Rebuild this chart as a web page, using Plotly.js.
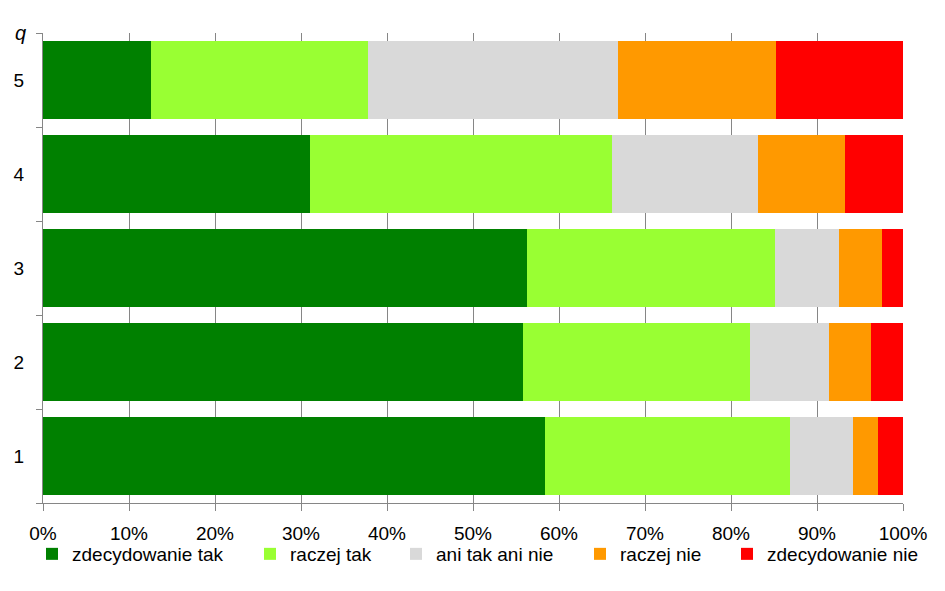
<!DOCTYPE html>
<html>
<head>
<meta charset="utf-8">
<script src="https://cdn.plot.ly/plotly-3.0.1.min.js"></script>
<style>html,body{margin:0;padding:0;background:#fff;}#chart{width:945px;height:591px;}</style>
</head>
<body>
<div id="chart"></div>
<script>
const categories = ['1', '2', '3', '4', '5'];
const seriesNames = ['zdecydowanie tak', 'raczej tak', 'ani tak ani nie', 'raczej nie', 'zdecydowanie nie'];
const zdecydowanieTak = [58.4, 55.8, 56.3, 31.0, 12.6];
const raczejTak = [28.5, 26.4, 28.8, 35.2, 25.2];
const aniTakAniNie = [7.3, 9.2, 7.4, 16.9, 29.1];
const raczejNie = [2.9, 4.9, 5.0, 10.2, 18.3];
const zdecydowanieNie = [2.9, 3.7, 2.5, 6.7, 14.8];
const xTickVals = [0, 10, 20, 30, 40, 50, 60, 70, 80, 90, 100];
const xTickText = ['0%', '10%', '20%', '30%', '40%', '50%', '60%', '70%', '80%', '90%', '100%'];

const seriesValues = [zdecydowanieTak, raczejTak, aniTakAniNie, raczejNie, zdecydowanieNie];
const colors = ['#008000', '#99FF33', '#D9D9D9', '#FF9900', '#FF0000'];
const legendIds = ['legend', 'legend2', 'legend3', 'legend4', 'legend5'];

const FONT = 'Liberation Sans, Arial, sans-serif';
const FS = 19;
const W = 945, H = 591, L = 43, R = 42, T = 33, B = 88;
const pw = W - L - R, ph = H - T - B;
const px2x = p => (p - L) / pw;
const py2y = p => (H - B - p) / ph;

const traces = seriesValues.map((vals, i) => ({
  type: 'bar',
  orientation: 'h',
  name: seriesNames[i],
  y: categories,
  x: vals,
  marker: {color: colors[i], line: {width: 0}},
  legend: legendIds[i],
  hoverinfo: 'x+name'
}));

const symbolCenters = [57, 275, 421, 605, 752];
const layout = {
  width: W, height: H,
  margin: {l: L, r: R, t: T, b: B, pad: 0},
  paper_bgcolor: '#ffffff',
  plot_bgcolor: '#ffffff',
  barmode: 'stack',
  bargap: 0.17,
  font: {family: FONT, size: FS, color: '#000000'},
  xaxis: {
    range: [0, 100],
    tickvals: xTickVals,
    ticktext: xTickText,
    showgrid: true,
    gridcolor: '#868686',
    gridwidth: 1,
    zeroline: false,
    showline: true,
    linecolor: '#868686',
    linewidth: 1,
    ticks: 'outside',
    ticklen: 7,
    tickcolor: '#868686',
    ticklabelstandoff: 6,
    tickfont: {family: FONT, size: FS, color: '#000'},
    fixedrange: true
  },
  yaxis: {
    type: 'category',
    categoryorder: 'array',
    categoryarray: categories,
    showgrid: false,
    zeroline: false,
    showline: true,
    linecolor: '#868686',
    linewidth: 1,
    ticks: 'outside',
    ticklen: 6,
    tickcolor: '#868686',
    tickson: 'boundaries',
    ticklabelstandoff: 14,
    tickfont: {family: FONT, size: FS, color: '#000'},
    fixedrange: true
  },
  showlegend: true,
  annotations: [{
    text: 'q',
    xref: 'paper', yref: 'paper',
    x: px2x(20.5), y: py2y(33),
    xanchor: 'center', yanchor: 'middle',
    showarrow: false,
    font: {family: FONT, size: 20, style: 'italic', color: '#000'}
  }]
};
legendIds.forEach((id, i) => {
  layout[id] = {
    x: px2x(symbolCenters[i] - 25),
    y: py2y(554),
    xref: 'paper', yref: 'paper',
    xanchor: 'left', yanchor: 'middle',
    orientation: 'h',
    bgcolor: 'rgba(0,0,0,0)',
    borderwidth: 0,
    font: {family: FONT, size: FS, color: '#000'}
  };
});

Plotly.newPlot('chart', traces, layout, {displayModeBar: false, staticPlot: true});
</script>
</body>
</html>
